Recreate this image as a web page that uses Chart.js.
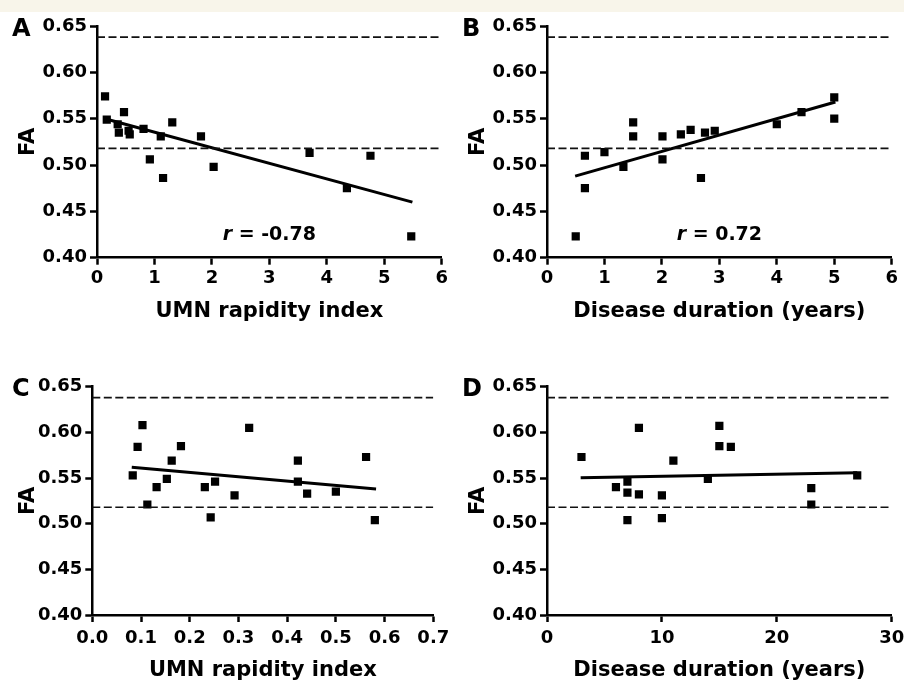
<!DOCTYPE html>
<html>
<head>
<meta charset="utf-8">
<script src="https://cdn.jsdelivr.net/npm/chart.js@4.4.1/dist/chart.umd.min.js"></script>
<style>
  html, body { margin: 0; padding: 0; background: #fff; width: 904px; height: 685px; overflow: hidden; position: relative; }
  .strip { position: absolute; left: 0; top: 0; width: 904px; height: 12px; background: #f8f5ea; }
  canvas { position: absolute; }
</style>
</head>
<body>
<div class="strip"></div>
<canvas id="panelA" width="460" height="342" style="left:0;top:0"></canvas>
<canvas id="panelB" width="460" height="342" style="left:452px;top:0"></canvas>
<canvas id="panelC" width="460" height="343" style="left:0;top:342px"></canvas>
<canvas id="panelD" width="460" height="343" style="left:452px;top:342px"></canvas>
<script>
// ===== Data =====
const refLines = [0.638, 0.518];   // dashed reference FA levels

// A: FA vs UMN rapidity index (ALS)
const rapidityA = [5.47, 4.35, 1.15, 2.03, 0.92, 4.76, 3.70, 1.11, 1.81, 0.57, 0.38, 0.55, 0.81, 0.36, 1.31, 0.17, 0.47, 0.14];
const faA       = [0.423, 0.475, 0.486, 0.498, 0.506, 0.510, 0.513, 0.531, 0.531, 0.533, 0.535, 0.537, 0.539, 0.544, 0.546, 0.549, 0.557, 0.574];
const fitAx = [0.14, 5.49];
const fitAy = [0.550, 0.460];

// B: FA vs disease duration (ALS)
const durationB = [0.50, 0.66, 0.66, 1.00, 1.33, 1.50, 1.50, 2.01, 2.01, 2.33, 2.50, 2.68, 2.75, 2.92, 4.00, 4.43, 5.00, 5.00];
const faB       = [0.423, 0.510, 0.475, 0.514, 0.498, 0.546, 0.531, 0.531, 0.506, 0.533, 0.538, 0.486, 0.535, 0.537, 0.544, 0.557, 0.573, 0.550];
const fitBx = [0.49, 5.02];
const fitBy = [0.488, 0.568];

// C: FA vs UMN rapidity index (PLS)
const rapidityC = [0.083, 0.093, 0.103, 0.113, 0.132, 0.153, 0.163, 0.182, 0.231, 0.243, 0.252, 0.292, 0.322, 0.422, 0.422, 0.441, 0.500, 0.562, 0.580];
const faC       = [0.553, 0.584, 0.608, 0.521, 0.540, 0.549, 0.569, 0.585, 0.540, 0.507, 0.546, 0.531, 0.605, 0.569, 0.546, 0.533, 0.535, 0.573, 0.504];
const fitCx = [0.081, 0.5825];
const fitCy = [0.5617, 0.538];

// D: FA vs disease duration (PLS)
const durationD = [3, 6, 7, 7, 7, 8, 8, 10, 10, 11, 14, 15, 15, 16, 23, 23, 27];
const faD       = [0.573, 0.540, 0.546, 0.534, 0.504, 0.605, 0.532, 0.531, 0.506, 0.569, 0.549, 0.607, 0.585, 0.584, 0.539, 0.521, 0.553];
const fitDx = [2.93, 27.0];
const fitDy = [0.5504, 0.5558];

const faRange = [0.40, 0.65];

// ============ HELPERS ============

const FONT = '"DejaVu Sans", "Liberation Sans", sans-serif';

function pairs(xs, ys) {
    return xs.map((x, i) => ({ x: x, y: ys[i] }));
}

// letters and r values drawn on top of each panel
const panelText = {
    id: 'panelText',
    afterDraw(chart, args, opts) {
        const ctx = chart.ctx;
        ctx.save();
        ctx.fillStyle = '#000';
        ctx.textBaseline = 'alphabetic';
        ctx.textAlign = 'left';
        ctx.font = 'bold 24px ' + FONT;
        ctx.fillText(opts.letter, opts.letterX, opts.letterY);

        if (opts.rText) {
            const cx = chart.scales.x.getPixelForValue(opts.rAt[0]);
            const cy = chart.scales.y.getPixelForValue(opts.rAt[1]);
            const fItal = 'italic bold 19px ' + FONT;
            const fBold = 'bold 19px ' + FONT;
            ctx.font = fItal;
            const w1 = ctx.measureText('r').width;
            ctx.font = fBold;
            const w2 = ctx.measureText(opts.rText).width;
            let x = cx - (w1 + w2) / 2;
            ctx.font = fItal;
            ctx.fillText('r', x, cy);
            ctx.font = fBold;
            ctx.fillText(opts.rText, x + w1, cy);
        }
        ctx.restore();
    }
};

function makePanel(id, p) {
    const datasets = [];
    // dashed reference lines across the full x range
    refLines.forEach(v => {
        datasets.push({
            data: [{ x: p.xMin, y: v }, { x: p.xMax, y: v }],
            showLine: true,
            borderColor: '#111',
            borderWidth: 1.7,
            borderDash: [8, 3.5],
            pointRadius: 0,
        });
    });
    // regression line
    datasets.push({
        data: pairs(p.fitX, p.fitY),
        showLine: true,
        borderColor: '#000',
        borderWidth: 3,
        pointRadius: 0,
    });
    // subjects
    datasets.push({
        data: pairs(p.xs, p.ys),
        showLine: false,
        pointStyle: 'rect',
        pointRadius: 5.8,
        backgroundColor: '#000',
        borderWidth: 0,
    });

    const axisGrid = {
        display: true,
        drawOnChartArea: false,
        drawTicks: true,
        tickLength: 7,
        tickWidth: 2.5,
        color: '#000',
    };

    return new Chart(document.getElementById(id), {
        type: 'scatter',
        data: { datasets: datasets },
        options: {
            responsive: false,
            animation: false,
            events: [],
            layout: { padding: { left: 0, top: p.top, right: p.right, bottom: 0 } },
            plugins: {
                legend: { display: false },
                tooltip: { enabled: false },
                panelText: { letter: p.letter, letterX: p.letterX, letterY: p.letterY, rText: p.rText, rAt: p.rAt },
            },
            scales: {
                x: {
                    type: 'linear',
                    min: p.xMin,
                    max: p.xMax,
                    border: { display: true, width: 2.5, color: '#000' },
                    grid: axisGrid,
                    ticks: {
                        stepSize: p.xStep,
                        color: '#000',
                        padding: p.xTickPad,
                        maxRotation: 0,
                        font: { family: FONT, size: 18, weight: 'bold' },
                        callback: v => v.toFixed(p.xDigits),
                    },
                    title: {
                        display: true,
                        text: p.xTitle,
                        color: '#000',
                        font: { family: FONT, size: 21, weight: 'bold', lineHeight: 1.2 },
                        padding: { top: 0, bottom: p.xTitlePad },
                    },
                    afterFit: s => { s.height = p.xAxisH; },
                },
                y: {
                    type: 'linear',
                    min: faRange[0],
                    max: faRange[1],
                    border: { display: true, width: 2.5, color: '#000' },
                    grid: axisGrid,
                    ticks: {
                        stepSize: 0.05,
                        color: '#000',
                        padding: 3,
                        font: { family: FONT, size: 18, weight: 'bold' },
                        callback: v => v.toFixed(2),
                    },
                    title: {
                        display: true,
                        text: 'FA',
                        color: '#000',
                        font: { family: FONT, size: 21, weight: 'bold', lineHeight: 1.2 },
                        padding: { top: p.yTitlePad, bottom: 0 },
                    },
                    afterFit: s => { s.width = p.left; },
                },
            },
        },
        plugins: [panelText],
    });
}

makePanel('panelA', {
    xs: rapidityA, ys: faA, fitX: fitAx, fitY: fitAy,
    xMin: 0, xMax: 6, xStep: 1, xDigits: 0, xTitle: 'UMN rapidity index',
    left: 97, top: 26, right: 460 - 441.7, xAxisH: 342 - 257.7,
    xTickPad: 3, xTitlePad: 18, yTitlePad: 16,
    letter: 'A', letterX: 12, letterY: 36, rText: ' = -0.78', rAt: [3.0, 0.419],
});

makePanel('panelB', {
    xs: durationB, ys: faB, fitX: fitBx, fitY: fitBy,
    xMin: 0, xMax: 6, xStep: 1, xDigits: 0, xTitle: 'Disease duration (years)',
    left: 95, top: 26, right: 460 - 439.7, xAxisH: 342 - 257.7,
    xTickPad: 3, xTitlePad: 18, yTitlePad: 14,
    letter: 'B', letterX: 10, letterY: 36, rText: ' = 0.72', rAt: [3.0, 0.419],
});

makePanel('panelC', {
    xs: rapidityC, ys: faC, fitX: fitCx, fitY: fitCy,
    xMin: 0, xMax: 0.7, xStep: 0.1, xDigits: 1, xTitle: 'UMN rapidity index',
    left: 92.3, top: 44.7, right: 460 - 433.3, xAxisH: 343 - 273,
    xTickPad: 6, xTitlePad: 2, yTitlePad: 16,
    letter: 'C', letterX: 12, letterY: 54,
});

makePanel('panelD', {
    xs: durationD, ys: faD, fitX: fitDx, fitY: fitDy,
    xMin: 0, xMax: 30, xStep: 10, xDigits: 0, xTitle: 'Disease duration (years)',
    left: 95, top: 44.7, right: 460 - 439.7, xAxisH: 343 - 273,
    xTickPad: 6, xTitlePad: 2, yTitlePad: 14,
    letter: 'D', letterX: 10, letterY: 54,
});
</script>
</body>
</html>
